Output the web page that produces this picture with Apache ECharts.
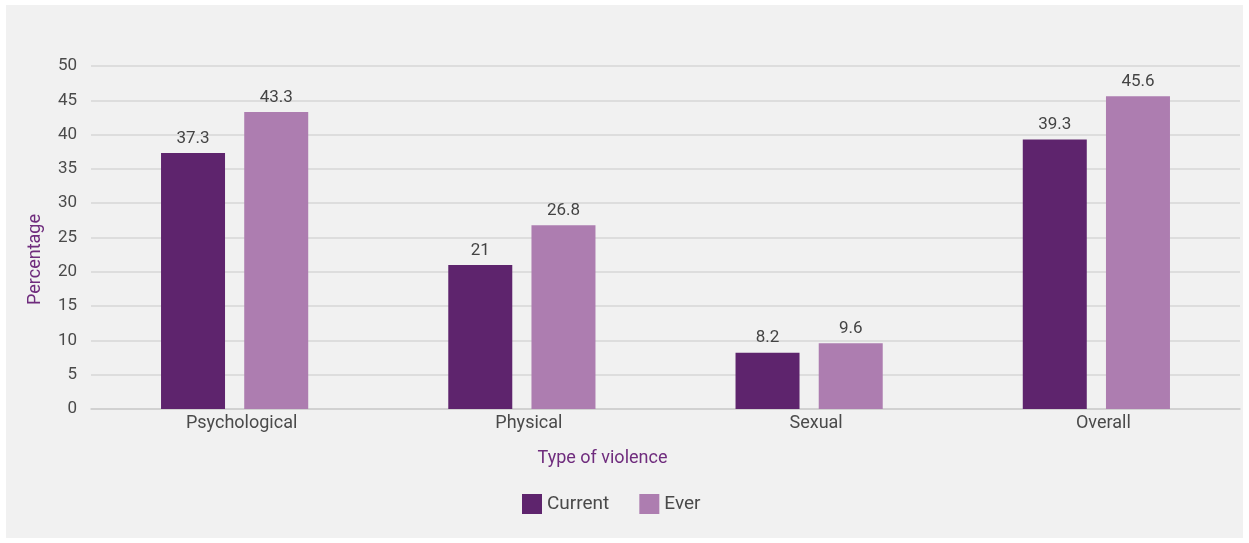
<!DOCTYPE html>
<html>
<head>
<meta charset="utf-8">
<script src="https://cdn.jsdelivr.net/npm/echarts@6/dist/echarts.min.js"></script>
<style>
html,body{margin:0;padding:0;background:#ffffff;width:1249px;height:543px;overflow:hidden;}
#chart{position:absolute;left:6px;top:5px;width:1237px;height:533px;background:#f1f1f1;}
</style>
</head>
<body>
<div id="chart"></div>
<script>
const categories = ['Psychological', 'Physical', 'Sexual', 'Overall'];
const currentValues = [37.3, 21, 8.2, 39.3];
const everValues = [43.3, 26.8, 9.6, 45.6];
const seriesNames = ['Current', 'Ever'];

const chart = echarts.init(document.getElementById('chart'));
const font = 'Roboto, "Noto Sans", sans-serif';
const labelStyle = {show: true, position: 'top', distance: 6, color: '#444444', fontSize: 17, fontFamily: font};
chart.setOption({
  animation: false,
  textStyle: {fontFamily: font},
  grid: {left: 85, right: 3, top: 61, bottom: 129, containLabel: false},
  legend: {
    data: seriesNames,
    left: 511, top: 484,
    itemWidth: 20, itemHeight: 20, itemGap: 30,
    icon: 'rect',
    textStyle: {color: '#4a4a4a', fontSize: 19, fontFamily: font}
  },
  xAxis: {
    type: 'category',
    data: categories,
    name: 'Type of violence',
    nameLocation: 'middle',
    nameGap: 40,
    nameTextStyle: {color: '#6f2c7d', fontSize: 18, fontFamily: font, padding: [0, 126, 0, 0]},
    axisLine: {lineStyle: {color: '#cccccc', width: 1.5}},
    axisTick: {show: false},
    axisLabel: {color: '#4a4a4a', fontSize: 18, margin: 5, fontFamily: font, padding: [0, 0, 0, 14]}
  },
  yAxis: {
    type: 'value',
    min: 0, max: 50, interval: 5,
    name: 'Percentage',
    nameLocation: 'middle',
    nameGap: 47,
    nameRotate: 90,
    nameTextStyle: {color: '#6f2c7d', fontSize: 18, fontFamily: font, padding: [0, 44, 0, 0]},
    axisLine: {show: false},
    axisTick: {show: false},
    axisLabel: {color: '#4a4a4a', fontSize: 17, margin: 14, fontFamily: font},
    splitLine: {lineStyle: {color: '#d6d6d6', width: 1.5}}
  },
  series: [
    {name: seriesNames[0], type: 'bar', data: currentValues, barWidth: 64, barGap: '30%',
     itemStyle: {color: '#5e246d'}, label: labelStyle},
    {name: seriesNames[1], type: 'bar', data: everValues, barWidth: 64, barGap: '30%',
     itemStyle: {color: '#ad7db0'}, label: labelStyle}
  ]
});
</script>
</body>
</html>
